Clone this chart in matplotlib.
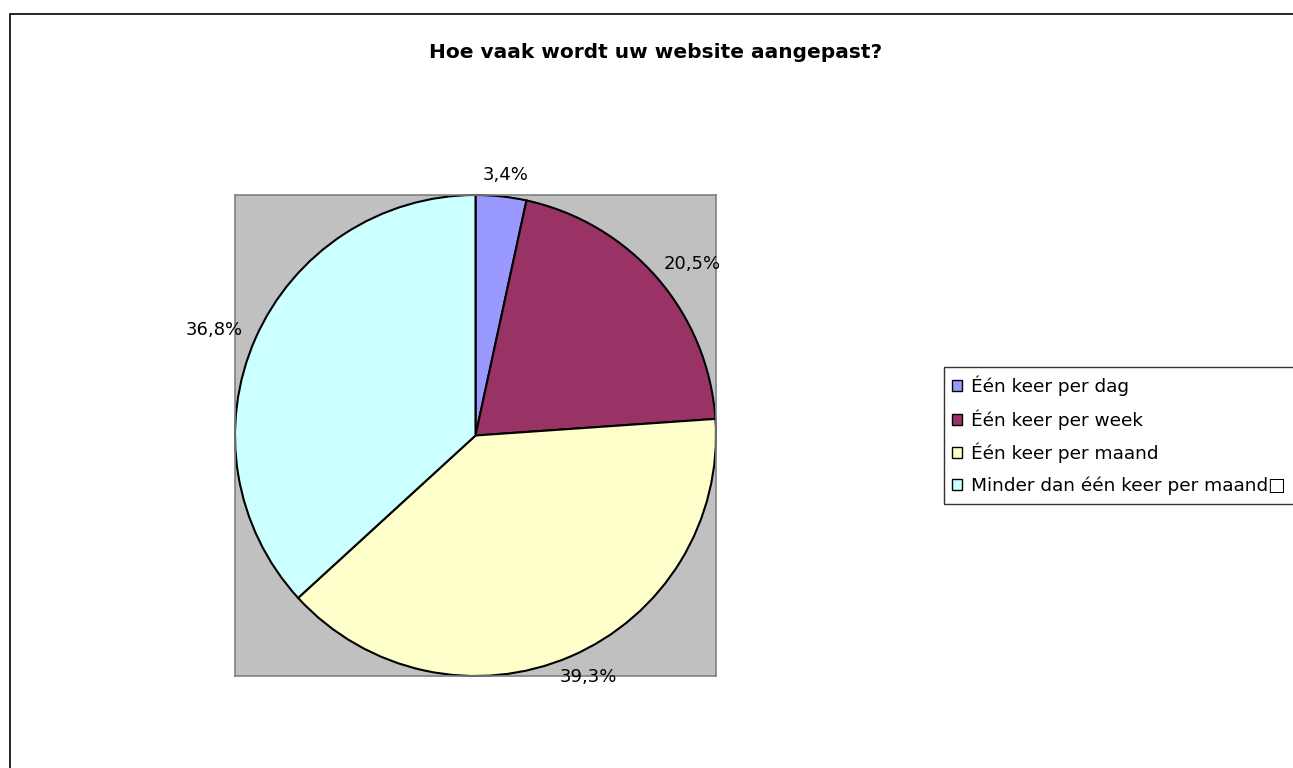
import numpy as np
import matplotlib.pyplot as plt
from matplotlib.patches import Rectangle

plt.rcParams['font.family'] = ['DejaVu Sans']

# data
categories = ['Één keer per dag', 'Één keer per week', 'Één keer per maand',
              'Minder dan één keer per maand\u25a1']
percentages = [3.4, 20.5, 39.3, 36.8]
colors = ['#9999FF', '#993366', '#FFFFCC', '#CCFFFF']
title = 'Hoe vaak wordt uw website aangepast?'

W, H = 1293, 768
fig = plt.figure(figsize=(W / 100, H / 100), dpi=100)

# outer chart frame (runs off the right and bottom edge)
fig.patches.append(Rectangle((10 / W, -0.05), 1.1, (H - 14) / H + 0.05,
                             transform=fig.transFigure, fill=False,
                             edgecolor='black', linewidth=1.2))

fig.text(656 / W, 1 - 53 / H, title, ha='center', va='center',
         fontsize=14.5, fontweight='bold')

# plot area (grey square holding the pie)
ax = fig.add_axes([235 / W, 1 - 676 / H, 481 / W, 481 / H])
wedges, _ = ax.pie(percentages, colors=colors, startangle=90, counterclock=False,
                   radius=1.0, wedgeprops=dict(edgecolor='black', linewidth=1.5))

# percentage labels just outside each slice
total = sum(percentages)
for w, p in zip(wedges, percentages):
    mid = np.deg2rad((w.theta1 + w.theta2) / 2)
    c, s = np.cos(mid), np.sin(mid)
    ax.annotate(f'{p / total * 100:.1f}%'.replace('.', ','),
                xy=(1.05 * c, 1.05 * s), xytext=(24 * c, 7 * s),
                textcoords='offset points', ha='center', va='center',
                fontsize=13, annotation_clip=False)

ax.set_xlim(-1.0, 1.0)
ax.set_ylim(-1.0, 1.0)
ax.set_frame_on(True)
ax.set_facecolor('#C0C0C0')
for side in ['top', 'left', 'bottom', 'right']:
    ax.spines[side].set_color('#808080')
    ax.spines[side].set_linewidth(1.2)
ax.set_xticks([])
ax.set_yticks([])

leg = fig.legend(wedges, categories, loc='upper left',
                 bbox_to_anchor=(944 / W, 1 - 367 / H),
                 fontsize=13.3, frameon=True, fancybox=False,
                 edgecolor='black', handlelength=0.55, handleheight=0.55,
                 handletextpad=0.45, borderpad=0.45, labelspacing=0.72,
                 borderaxespad=0)
leg.get_frame().set_linewidth(1.0)
for h in leg.legend_handles:
    h.set_linewidth(1.0)

fig.savefig('out.png', dpi=100)
